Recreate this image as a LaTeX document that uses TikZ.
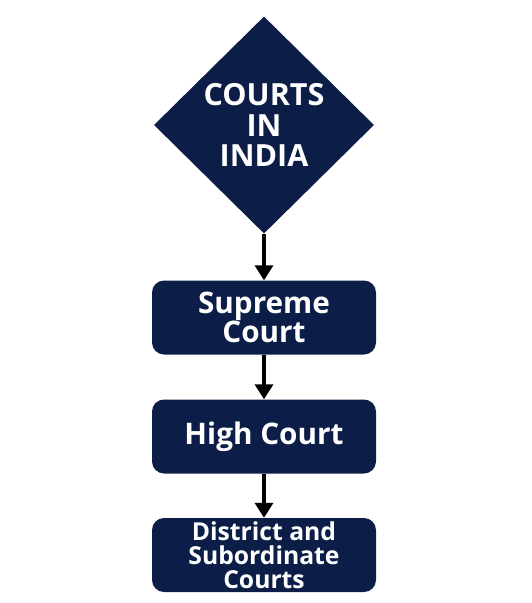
\documentclass[tikz,border=0pt]{standalone}
\usepackage{fontspec}
\setmainfont{Open Sans}
\usetikzlibrary{shapes.geometric,arrows.meta}

\definecolor{courtnavy}{RGB}{12,30,72}

\tikzset{
  courtbox/.style={draw=none,fill=courtnavy,rounded corners=12pt,
    minimum width=224pt,minimum height=74pt,inner sep=0pt,
    text=white,align=center,font=\bfseries},
  flowarrow/.style={line width=3.5pt,-{Triangle[width=18pt,length=15pt]}}
}

\begin{document}
\begin{tikzpicture}[x=1pt,y=-1pt]
  \useasboundingbox (0,0) rectangle (531,603);

  \node [diamond,fill=courtnavy,minimum width=220pt,minimum height=217pt,
    inner sep=0pt,text=white,align=center,
    font=\bfseries\fontsize{30.5}{30.5}\selectfont] (india) at (264,125) {COURTS\\IN\\INDIA};

  \node [courtbox,font=\bfseries\fontsize{29.7}{29}\selectfont] (supreme) at (264,317.5) {Supreme\\Court};
  \node [courtbox,font=\bfseries\fontsize{29.7}{30}\selectfont] (high) at (264,436.5) {High Court};
  \node [courtbox,font=\bfseries\fontsize{24.7}{24}\selectfont] (district) at (264,555) {District and\\Subordinate\\Courts};

  \draw [flowarrow] (india.south) -- (supreme.north);
  \draw [flowarrow] (supreme.south) -- (high.north);
  \draw [flowarrow] (high.south) -- (district.north);

\end{tikzpicture}
\end{document}
